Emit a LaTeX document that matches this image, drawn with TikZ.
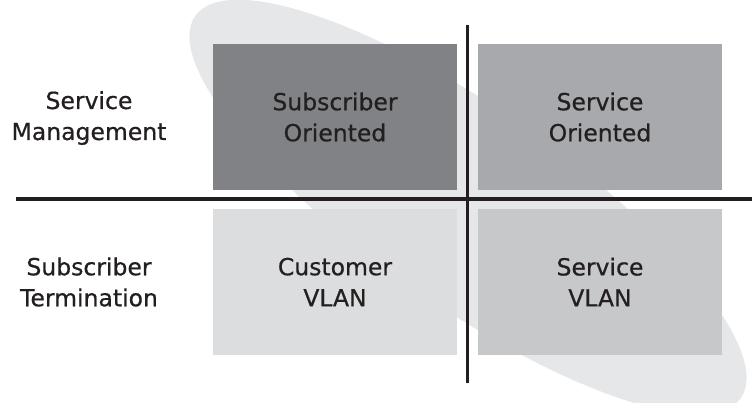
\documentclass[tikz,border=0pt]{standalone}
\usepackage{fontspec}
\setmainfont{DejaVu Sans}[FakeBold=0.6]
\usetikzlibrary{shapes.geometric}
\definecolor{ellc}{HTML}{E6E7E8}
\definecolor{boxA}{HTML}{808285}
\definecolor{boxB}{HTML}{A7A9AC}
\definecolor{boxC}{HTML}{DCDDDE}
\definecolor{boxD}{HTML}{C7C8CA}
\definecolor{inkc}{HTML}{231F20}
\tikzset{
  quad/.style={rectangle, minimum width=244pt, minimum height=146pt, inner sep=0pt, align=center, text=inkc,
    font=\fontsize{23.5}{31}\selectfont},
  rowlabel/.style={align=center, text=inkc, font=\fontsize{23.5}{31}\selectfont, inner sep=0pt},
  axis/.style={draw=inkc, line width=3.5pt}
}
\begin{document}
\begin{tikzpicture}[x=1pt,y=-1pt]
\useasboundingbox (0,0) rectangle (752,403);
\fill[ellc, rotate around={-35:(468,207)}] (468,207) ellipse [x radius=333, y radius=98];
\node[quad, fill=boxA] (so) at (335,117) {Subscriber\\Oriented};
\node[quad, fill=boxB] (sv) at (600,117) {Service\\Oriented};
\node[quad, fill=boxC] (cv) at (335,282) {Customer\\VLAN};
\node[quad, fill=boxD] (svl) at (600,282) {Service\\VLAN};
\node[rowlabel] (sm) at (89,118) {Service\\Management};
\node[rowlabel] (st) at (89,282) {Subscriber\\Termination};
\coordinate (hl) at (16,199);
\coordinate (hr) at (752,199);
\coordinate (vt) at (467.5,25);
\coordinate (vb) at (467.5,383);
\draw[axis] (hl) -- (hr);
\draw[axis] (vt) -- (vb);
\end{tikzpicture}
\end{document}
